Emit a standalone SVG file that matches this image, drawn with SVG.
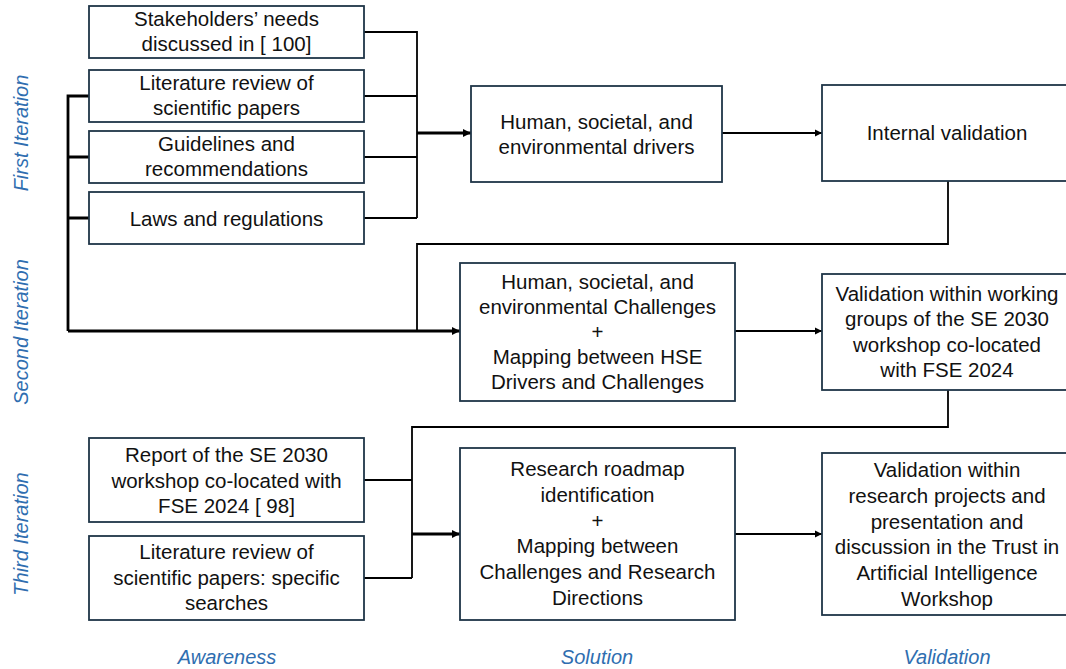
<svg xmlns="http://www.w3.org/2000/svg" width="1066" height="669" viewBox="0 0 1066 669">
<defs>
<style>
.box{fill:#fff;stroke:#1f3547;stroke-width:1.8}
.t{font-family:"Liberation Sans",Arial,sans-serif;font-size:20.5px;fill:#111;text-anchor:middle}
.lbl{font-family:"Liberation Sans",Arial,sans-serif;font-size:20px;font-style:italic;fill:#2f6eb0;text-anchor:middle}
.c{fill:none;stroke:#000;stroke-width:1.8}
.ck{fill:none;stroke:#000;stroke-width:2.8}
</style>
<marker id="ah" viewBox="0 0 10 10" refX="10" refY="5" markerWidth="4" markerHeight="4" markerUnits="strokeWidth" orient="auto">
<path d="M0,0 L10,5 L0,10 z" fill="#000"/>
</marker>
<marker id="ah2" viewBox="0 0 10 10" refX="10" refY="5" markerWidth="3" markerHeight="3" markerUnits="strokeWidth" orient="auto">
<path d="M0,0 L10,5 L0,10 z" fill="#000"/>
</marker>
</defs>

<g id="side-labels">
<text class="lbl" transform="translate(28,133) rotate(-90)">First Iteration</text>
<text class="lbl" transform="translate(28,332) rotate(-90)">Second Iteration</text>
<text class="lbl" transform="translate(28,534) rotate(-90)">Third Iteration</text>
<text class="lbl" x="227" y="664">Awareness</text>
<text class="lbl" x="597" y="664">Solution</text>
<text class="lbl" x="947" y="664">Validation</text>
</g>

<g id="connectors">
<path class="c" d="M364,32 H417 V218 M364,96 H417 M364,157 H417 M364,218 H417"/>
<path class="ck" d="M417,133 H471" marker-end="url(#ah2)"/>
<path class="c" d="M722,133 H822" marker-end="url(#ah)"/>
<path class="ck" d="M89,96 H68 V331 M68,157 H89 M68,218 H89"/>
<path class="ck" d="M68,331 H460" marker-end="url(#ah2)"/>
<path class="c" d="M948,181 V244 H417 V331"/>
<path class="c" d="M735,331 H822" marker-end="url(#ah)"/>
<path class="c" d="M948,390 V427 H412 V578 M364,480 H412 M364,578 H412"/>
<path class="ck" d="M412,534 H460" marker-end="url(#ah2)"/>
<path class="c" d="M735,534 H822" marker-end="url(#ah)"/>
</g>

<g id="n-stakeholders">
<rect class="box" x="89" y="6" width="275" height="52"/>
<text class="t" y="26"><tspan x="226.5">Stakeholders’ needs</tspan><tspan x="226.5" dy="25">discussed in [ 100]</tspan></text>
</g>
<g id="n-literature1">
<rect class="box" x="89" y="70" width="275" height="52"/>
<text class="t" y="90"><tspan x="226.5">Literature review of</tspan><tspan x="226.5" dy="25">scientific papers</tspan></text>
</g>
<g id="n-guidelines">
<rect class="box" x="89" y="131" width="275" height="52"/>
<text class="t" y="151"><tspan x="226.5">Guidelines and</tspan><tspan x="226.5" dy="25">recommendations</tspan></text>
</g>
<g id="n-laws">
<rect class="box" x="89" y="192" width="275" height="52"/>
<text class="t" x="226.5" y="225.5">Laws and regulations</text>
</g>
<g id="n-report">
<rect class="box" x="89" y="438" width="275" height="84"/>
<text class="t" y="462"><tspan x="226.5">Report of the SE 2030</tspan><tspan x="226.5" dy="25.5">workshop co-located with</tspan><tspan x="226.5" dy="25.5">FSE 2024 [ 98]</tspan></text>
</g>
<g id="n-literature2">
<rect class="box" x="89" y="536" width="275" height="84"/>
<text class="t" y="559"><tspan x="226.5">Literature review of</tspan><tspan x="226.5" dy="25.5">scientific papers: specific</tspan><tspan x="226.5" dy="25.5">searches</tspan></text>
</g>

<g id="n-drivers">
<rect class="box" x="471" y="86" width="251" height="96"/>
<text class="t" y="129"><tspan x="596.5">Human, societal, and</tspan><tspan x="596.5" dy="25">environmental  drivers</tspan></text>
</g>
<g id="n-challenges">
<rect class="box" x="460" y="263" width="275" height="138"/>
<text class="t" y="289"><tspan x="597.5">Human, societal, and</tspan><tspan x="597.5" dy="25">environmental Challenges</tspan><tspan x="597.5" dy="25">+</tspan><tspan x="597.5" dy="25">Mapping between HSE</tspan><tspan x="597.5" dy="25">Drivers and Challenges</tspan></text>
</g>
<g id="n-roadmap">
<rect class="box" x="460" y="448" width="275" height="172"/>
<text class="t" y="476"><tspan x="597.5">Research roadmap</tspan><tspan x="597.5" dy="25.8">identification</tspan><tspan x="597.5" dy="25.8">+</tspan><tspan x="597.5" dy="25.8">Mapping between</tspan><tspan x="597.5" dy="25.8">Challenges and Research</tspan><tspan x="597.5" dy="25.8">Directions</tspan></text>
</g>

<g id="n-internal">
<rect class="box" x="822" y="85" width="260" height="96"/>
<text class="t" x="947" y="140">Internal validation</text>
</g>
<g id="n-validation2">
<rect class="box" x="822" y="274" width="260" height="116"/>
<text class="t" y="301"><tspan x="947">Validation within working</tspan><tspan x="947" dy="25.3">groups of the SE 2030</tspan><tspan x="947" dy="25.3">workshop co-located</tspan><tspan x="947" dy="25.3">with FSE 2024</tspan></text>
</g>
<g id="n-validation3">
<rect class="box" x="822" y="453" width="260" height="162"/>
<text class="t" y="477"><tspan x="947">Validation within</tspan><tspan x="947" dy="25.8">research projects and</tspan><tspan x="947" dy="25.8">presentation and</tspan><tspan x="947" dy="25.8">discussion in the Trust in</tspan><tspan x="947" dy="25.8">Artificial Intelligence</tspan><tspan x="947" dy="25.8">Workshop</tspan></text>
</g>
</svg>
